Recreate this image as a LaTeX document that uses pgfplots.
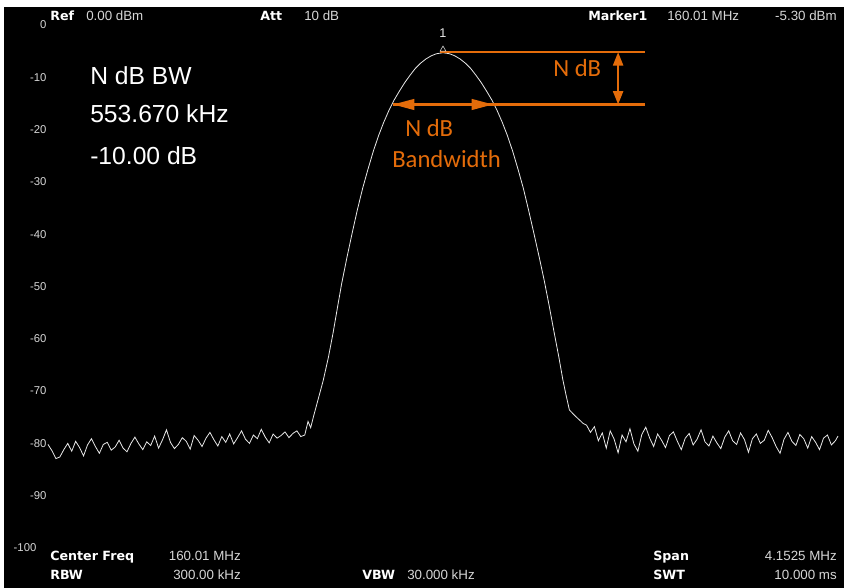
\documentclass[border=0pt]{standalone}
\usepackage{fontspec}
\setmainfont{Liberation Sans}
\newfontfamily\annotfont{Carlito}
\newfontfamily\lblfont{DejaVu Sans}
\usepackage{pgfplots}
\pgfplotsset{compat=1.18}
\usetikzlibrary{arrows.meta}
\definecolor{trace}{HTML}{E8E8E8}
\definecolor{lbl}{HTML}{D6D6D6}
\definecolor{annot}{HTML}{E46C0A}
\newcommand\hdr{\fontsize{10}{11}\selectfont}
\newcommand\hdrb{\lblfont\bfseries\fontsize{9.5}{11}\selectfont}
\begin{document}
\begin{tikzpicture}[x=0.75pt,y=0.75pt]
\fill[white] (0,0) rectangle (844,588);
\fill[black] (4,0) rectangle (844,581);
\begin{axis}[
  at={(36pt,30pt)}, anchor=south west,
  scale only axis, width=592.5pt, height=392.25pt,
  xmin=0, xmax=600, ymin=-100, ymax=0,
  axis line style={draw=none},
  xtick=\empty,
  ytick={-90,-80,...,0},
  extra y ticks={-100},
  extra y tick style={yticklabel style={xshift=-7.5pt}},
  major tick length=0pt, tick style={draw=none},
  yticklabel style={font=\fontsize{8.5}{9}\selectfont, text=lbl, inner sep=1pt},
  /pgf/number format/assume math mode=true,
  clip=false,
]
% trace: point index (0..600) vs level in dBm
\addplot[color=trace, line width=0.6pt] coordinates {
(0,-80.2)(3,-81.4)(6,-82.9)(9,-82.6)(12,-81.2)(15,-80.0)(18,-81.5)(21,-79.6)(24,-80.8)(27,-82.4)
(30,-80.3)(33,-79.1)(36,-80.6)(39,-81.9)(42,-80.2)(45,-79.8)(48,-81.3)(51,-80.7)(54,-79.4)(57,-80.9)
(60,-81.6)(63,-80.0)(66,-78.8)(69,-80.1)(72,-81.2)(75,-79.7)(78,-80.4)(81,-78.6)(84,-80.9)(87,-79.3)
(90,-77.4)(93,-79.8)(96,-81.0)(99,-80.2)(102,-78.9)(105,-79.6)(108,-81.1)(111,-78.5)(114,-79.4)(117,-80.6)
(120,-79.0)(123,-77.9)(126,-79.3)(129,-80.5)(132,-78.7)(135,-79.8)(138,-78.2)(141,-80.1)(144,-78.9)(147,-77.6)
(150,-79.2)(153,-80.0)(156,-78.4)(159,-79.1)(162,-77.3)(165,-78.8)(168,-79.9)(171,-78.2)(174,-79.0)(177,-78.5)
(180,-77.8)(183,-78.9)(186,-78.1)(189,-77.6)(192,-78.7)(195,-78.4)(197.5,-75.8)(199.5,-77.0)(201.5,-75.0)
(203,-73.6)(206,-70.8)(209,-68.0)(213,-63.5)(216.5,-58.9)(220,-53.8)(223,-49.5)
(227,-44.5)(231,-39.8)(235,-35.3)(239,-31.2)(243,-27.6)(247,-24.2)(251,-21.2)(255,-18.6)(259,-16.3)
(263,-14.3)(267,-12.6)(271,-11.0)(275,-9.6)(279,-8.3)(283,-7.3)(287,-6.5)(291,-5.9)(295,-5.5)(300,-5.3)
(305,-5.5)(309,-5.9)(313,-6.5)(317,-7.3)(321,-8.3)(325,-9.6)(329,-11.0)(333,-12.6)(337,-14.3)(341,-16.3)
(345,-18.6)(349,-21.2)(353,-24.2)(357,-27.6)(361,-31.2)(365,-35.4)(369,-39.8)(373,-44.3)(377,-49.0)
(380.5,-53.5)(384.5,-58.9)(388,-63.5)(391,-67.8)(393.5,-70.8)(396,-73.6)(399,-74.4)(401,-74.9)(404,-75.6)(406.5,-76.2)
(409,-76.5)(412,-77.9)(415,-76.8)(418,-79.5)(421,-78.0)(424,-80.9)(427,-77.6)(430,-79.2)(433,-81.8)(436,-78.4)
(439,-79.7)(442,-77.2)(445,-80.1)(448,-81.5)(451,-78.3)(454,-76.9)(457,-79.0)(460,-80.6)(463,-78.2)(466,-79.4)
(469,-80.8)(472,-78.5)(475,-77.8)(478,-79.6)(481,-81.2)(484,-79.0)(487,-78.1)(490,-80.3)(493,-79.2)(496,-77.4)
(499,-79.7)(502,-80.5)(505,-78.6)(508,-79.9)(511,-81.0)(514,-78.8)(517,-77.6)(520,-79.5)(523,-80.2)(526,-78.0)
(529,-79.3)(532,-81.7)(535,-79.1)(538,-78.2)(541,-80.0)(544,-79.4)(547,-77.5)(550,-78.9)(553,-80.6)(556,-81.9)
(559,-79.2)(562,-77.9)(565,-79.6)(568,-80.4)(571,-78.3)(574,-79.1)(577,-80.9)(580,-78.7)(583,-79.8)(586,-81.2)
(589,-79.0)(592,-78.4)(595,-80.3)(598,-79.5)(600,-78.6)
};
% marker 1 at the peak
\addplot[only marks, mark=triangle, mark size=2.5pt, color=trace,
  mark options={yshift=2.5pt},
  nodes near coords={1},
  every node near coord/.append style={anchor=base, yshift=9pt, inner sep=0pt,
    font=\fontsize{9.5}{10}\selectfont, text=trace}]
  coordinates {(300,-5.3)};
% N dB annotation
\draw[annot, line width=1.6pt] (axis cs:298,-5.2) -- (axis cs:453.4,-5.2);
\draw[annot, line width=1.6pt] (axis cs:262,-15.2) -- (axis cs:453.4,-15.2);
\draw[annot, line width=1.6pt, {Triangle[length=16pt,width=8pt]}-{Triangle[length=16pt,width=8pt]}]
  (axis cs:262,-15.2) -- (axis cs:338,-15.2);
\draw[annot, line width=1.6pt, {Triangle[length=10pt,width=7.5pt]}-{Triangle[length=10pt,width=7.5pt]}]
  (axis cs:433,-5.2) -- (axis cs:433,-15.2);
\end{axis}
% header
\begin{scope}[every node/.style={anchor=base west, inner sep=0pt}]
\node[font=\hdrb, text=white] at (50,567) {Ref};
\node[font=\hdr, text=lbl] at (86,567) {0.00 dBm};
\node[font=\hdrb, text=white] at (260,567) {Att};
\node[font=\hdr, text=lbl] at (304,567) {10 dB};
\node[font=\hdrb, text=white] at (588,567) {Marker1};
\node[font=\hdr, text=lbl] at (667,567) {160.01 MHz};
\node[font=\hdr, text=lbl, anchor=base east] at (837,567) {-5.30 dBm};
% footer
\node[font=\hdrb, text=white] at (50,27) {Center Freq};
\node[font=\hdr, text=lbl, anchor=base east] at (241,27) {160.01 MHz};
\node[font=\hdrb, text=white] at (50,8) {RBW};
\node[font=\hdr, text=lbl, anchor=base east] at (241,8) {300.00 kHz};
\node[font=\hdrb, text=white] at (362,8) {VBW};
\node[font=\hdr, text=lbl] at (407,8) {30.000 kHz};
\node[font=\hdrb, text=white] at (653,27) {Span};
\node[font=\hdr, text=lbl, anchor=base east] at (837,27) {4.1525 MHz};
\node[font=\hdrb, text=white] at (653,8) {SWT};
\node[font=\hdr, text=lbl, anchor=base east] at (837,8) {10.000 ms};
% measurement readout
\node[font=\fontsize{18.5}{22}\selectfont, text=white] at (90,503) {N dB BW};
\node[font=\fontsize{18.5}{22}\selectfont, text=white] at (90,465) {553.670 kHz};
\node[font=\fontsize{18.5}{22}\selectfont, text=white] at (90,423) {-10.00 dB};
% annotation text
\node[font=\annotfont\fontsize{18.5}{22}\selectfont, text=annot] at (553,511) {N dB};
\node[font=\annotfont\fontsize{18.5}{22}\selectfont, text=annot] at (405,451) {N dB};
\node[font=\annotfont\fontsize{18.5}{22}\selectfont, text=annot] at (392,420) {Bandwidth};
\end{scope}
\end{tikzpicture}
\end{document}
